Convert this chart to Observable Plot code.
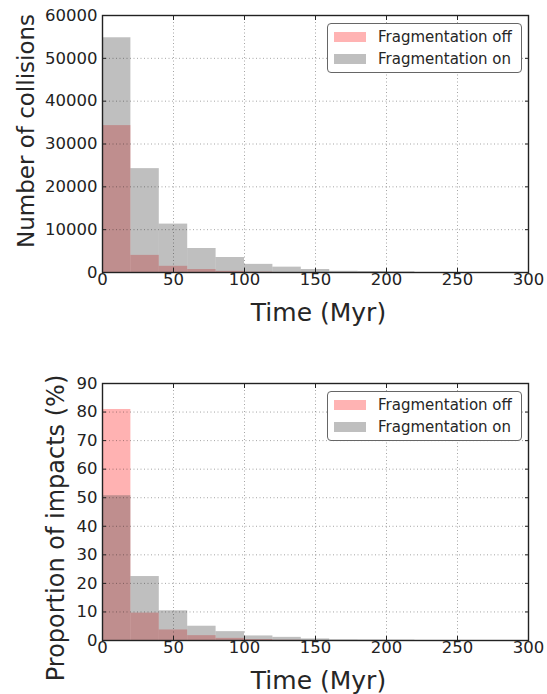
<!DOCTYPE html>
<html>
<head>
<meta charset="utf-8">
<script src="https://cdn.jsdelivr.net/npm/d3@7"></script>
<script src="https://cdn.jsdelivr.net/npm/@observablehq/plot@0.6"></script>
<style>
  html, body { margin: 0; padding: 0; background: #fff; }
  #page { position: relative; width: 547px; height: 694px; font-family: "DejaVu Sans", sans-serif; }
  #page svg { display: block; }
  .legend {
    position: absolute; left: 327px; width: 193px; height: 48px;
    background: #fff; border: 1px solid #666; border-radius: 4px;
    font-size: 15px; color: #262626;
  }
  .legend .row { position: absolute; left: 6px; height: 20px; display: flex; align-items: center; }
  .legend .sw { width: 32px; height: 10px; margin-right: 12px; }
</style>
</head>
<body>
<div id="page"></div>
<script>
// Histogram bins (Myr): left edge of each 20 Myr bin
const binStart = [0, 20, 40, 60, 80, 100, 120, 140, 160, 180, 200];
const binWidth = 20;

// Number of collisions per bin
const collisionsOff = [34300, 4000, 1450, 700, 270, 90, 0, 0, 0, 0, 0];
const collisionsOn  = [54800, 24250, 11300, 5600, 3500, 1900, 1250, 700, 280, 230, 150];

// Proportion of impacts per bin (%)
const impactsOff = [80.9, 9.6, 3.7, 1.7, 0.75, 0.35, 0.1, 0, 0, 0, 0];
const impactsOn  = [50.7, 22.4, 10.4, 5.0, 3.1, 1.6, 1.1, 0.55, 0.2, 0.15, 0.1];

// Axis ticks
const timeTicks = [0, 50, 100, 150, 200, 250, 300];
const collisionTicks = [0, 10000, 20000, 30000, 40000, 50000, 60000];
const impactTicks = [0, 10, 20, 30, 40, 50, 60, 70, 80, 90];

const seriesNames = ["Fragmentation off", "Fragmentation on"];
const offColor = "#ffb3b3";
const onColor = "#bfbfbf";

function rowsFor(off, on) {
  return binStart.map((t, i) => ({t0: t, t1: t + binWidth, off: off[i], on: on[i]}));
}

function panel({rows, yDomain, yTicks, yLabel, height, marginTop, marginBottom, yLabelDx, yLabelDy, yLabelSize}) {
  const grid = {stroke: "#000", strokeOpacity: 0.45, strokeWidth: 0.8, strokeDasharray: "1,2.5"};
  return Plot.plot({
    width: 547,
    height,
    marginLeft: 102,
    marginRight: 19,
    marginTop,
    marginBottom,
    style: {fontFamily: "DejaVu Sans, sans-serif", fontSize: "16.5px", color: "#222", background: "#fff"},
    x: {domain: [0, 300], label: null},
    y: {domain: yDomain, label: null},
    marks: [
      Plot.rectY(rows, {x1: "t0", x2: "t1", y: "off", fill: "#ff0000", fillOpacity: 0.3}),
      Plot.rectY(rows, {x1: "t0", x2: "t1", y: "on", fill: "#525252", fillOpacity: 0.37}),
      Plot.gridX(timeTicks, grid),
      Plot.gridY(yTicks, grid),
      Plot.axisX(timeTicks, {anchor: "bottom", tickSize: -4, tickPadding: 5, tickFormat: d => String(d), label: null, stroke: "#222"}),
      Plot.axisX(timeTicks, {anchor: "top", tickSize: -4, fill: "none", label: null, stroke: "#222"}),
      Plot.axisY(yTicks, {anchor: "left", tickSize: -4, tickPadding: 9, tickFormat: d => String(d), label: null, stroke: "#222"}),
      Plot.axisY(yTicks, {anchor: "right", tickSize: -4, fill: "none", label: null, stroke: "#222"}),
      Plot.frame({stroke: "#222", strokeWidth: 1.4}),
      Plot.text(["Time (Myr)"], {frameAnchor: "bottom", dy: 40, dx: 3, textAnchor: "middle", lineAnchor: "middle", fontSize: 25, fill: "#262626"}),
      Plot.text([yLabel], {frameAnchor: "left", rotate: -90, dx: yLabelDx, dy: yLabelDy, textAnchor: "middle", lineAnchor: "middle", fontSize: yLabelSize, fill: "#262626"})
    ]
  });
}

const page = document.getElementById("page");

page.appendChild(panel({
  rows: rowsFor(collisionsOff, collisionsOn),
  yDomain: [0, 60000], yTicks: collisionTicks,
  yLabel: "Number of collisions",
  height: 330, marginTop: 15, marginBottom: 58,
  yLabelDx: -76, yLabelDy: -13, yLabelSize: 23
}));

page.appendChild(panel({
  rows: rowsFor(impactsOff, impactsOn),
  yDomain: [0, 90], yTicks: impactTicks,
  yLabel: "Proportion of impacts (%)",
  height: 364, marginTop: 53, marginBottom: 54,
  yLabelDx: -46, yLabelDy: 16, yLabelSize: 24
}));

// Legends inside the upper right of each panel
function legend(top) {
  const box = document.createElement("div");
  box.className = "legend";
  box.style.top = top + "px";
  [offColor, onColor].forEach((c, i) => {
    const row = document.createElement("div");
    row.className = "row";
    row.style.top = (3 + i * 22) + "px";
    const sw = document.createElement("span");
    sw.className = "sw";
    sw.style.background = c;
    const label = document.createElement("span");
    label.textContent = seriesNames[i];
    row.appendChild(sw);
    row.appendChild(label);
    box.appendChild(row);
  });
  page.appendChild(box);
}
legend(23);
legend(391);
</script>
</body>
</html>
